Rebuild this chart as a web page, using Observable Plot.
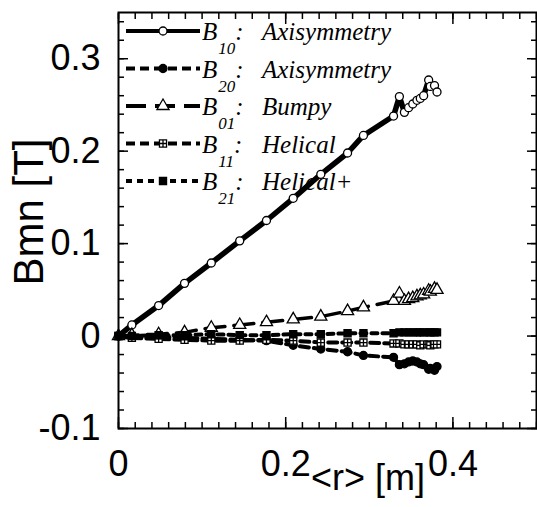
<!DOCTYPE html>
<html><head><meta charset="utf-8">
<script src="https://cdn.jsdelivr.net/npm/d3@7"></script>
<script src="https://cdn.jsdelivr.net/npm/@observablehq/plot@0.6"></script>
<style>
html,body{margin:0;padding:0;background:#fff;}
#chart svg{display:block;}
</style></head><body><div id="chart"></div>
<script>
// <r> [m] sample positions (shared by all harmonics)
const r   = [0, 0.016, 0.048, 0.079, 0.111, 0.145, 0.177, 0.209, 0.242, 0.274, 0.293, 0.329, 0.336, 0.342, 0.347, 0.352, 0.357, 0.361, 0.365, 0.371, 0.373, 0.378, 0.381];
const B10 = [0, 0.012, 0.033, 0.057, 0.079, 0.103, 0.125, 0.149, 0.175, 0.198, 0.217, 0.238, 0.259, 0.242, 0.247, 0.251, 0.255, 0.257, 0.260, 0.277, 0.270, 0.271, 0.264];
const B20 = [0, -0.001, -0.001, -0.002, -0.003, -0.004, -0.005, -0.010, -0.014, -0.017, -0.021, -0.023, -0.031, -0.030, -0.028, -0.027, -0.028, -0.030, -0.031, -0.036, -0.035, -0.037, -0.033];
const B01 = [0, 0.001, 0.002, 0.004, 0.009, 0.012, 0.015, 0.018, 0.021, 0.027, 0.031, 0.038, 0.046, 0.038, 0.040, 0.041, 0.043, 0.044, 0.045, 0.049, 0.048, 0.051, 0.050];
const B11 = [0, -0.002, -0.003, -0.004, -0.005, -0.005, -0.004, -0.005, -0.007, -0.007, -0.007, -0.008, -0.008, -0.009, -0.009, -0.009, -0.009, -0.010, -0.009, -0.009, -0.010, -0.009, -0.009];
const B21 = [0, 0.000, 0.001, 0.001, 0.002, 0.001, 0.001, 0.002, 0.002, 0.003, 0.003, 0.003, 0.004, 0.004, 0.004, 0.004, 0.004, 0.004, 0.004, 0.004, 0.004, 0.004, 0.004];

const seriesKeys = ["B10", "B20", "B01", "B11", "B21"];
const seriesSub  = ["10", "20", "01", "11", "21"];
const seriesDesc = ["Axisymmetry", "Axisymmetry", "Bumpy", "Helical", "Helical+"];
const seriesVals = {B10, B20, B01, B11, B21};

const xTickLabels = [0, 0.2, 0.4];
const yTickLabels = [-0.1, 0, 0.1, 0.2, 0.3];
const xMinorTicks = d3.range(0, 0.501, 0.02);
const yMinorTicks = d3.range(-0.1, 0.351, 0.02);
const xLabel = "<r> [m]";
const yLabel = "Bmn [T]";

const crossSquare = {
  draw(ctx, size) {
    const s = Math.sqrt(size) / 2;
    ctx.moveTo(-s, -s); ctx.lineTo(s, -s); ctx.lineTo(s, s); ctx.lineTo(-s, s); ctx.closePath();
    ctx.moveTo(-s, 0); ctx.lineTo(s, 0);
    ctx.moveTo(0, -s); ctx.lineTo(0, s);
  }
};
const styles = {
  B10: {dash: null,    width: 5.5, symbol: "circle",   d3sym: d3.symbolCircle,   fill: "white", rr: 4},
  B20: {dash: "9,5",   width: 4,   symbol: "circle",   d3sym: d3.symbolCircle,   fill: "black", rr: 4},
  B01: {dash: "20,9",  width: 3.5, symbol: "triangle", d3sym: d3.symbolTriangle, fill: "white", rr: 4.5},
  B11: {dash: "9,5",   width: 4,   symbol: crossSquare, d3sym: crossSquare,      fill: "white", rr: 4},
  B21: {dash: "6,5",   width: 4,   symbol: "square",   d3sym: d3.symbolSquare,   fill: "black", rr: 4}
};

const marks = [];
for (const k of seriesKeys) {
  const st = styles[k];
  const data = r.map((x, i) => ({x, y: seriesVals[k][i]}));
  marks.push(Plot.line(data, {x: "x", y: "y", stroke: "black", strokeWidth: st.width, strokeDasharray: st.dash, strokeLinejoin: "round"}));
  marks.push(Plot.dot(data, {x: "x", y: "y", r: st.rr, symbol: st.symbol, fill: st.fill, stroke: "black", strokeWidth: 1.3}));
}

const tickOpts = {fill: "none", stroke: "black", strokeWidth: 1.5, label: null};
marks.push(
  Plot.axisX({...tickOpts, anchor: "bottom", ticks: xMinorTicks, tickSize: -6}),
  Plot.axisX({...tickOpts, anchor: "top", ticks: xMinorTicks, tickSize: -6}),
  Plot.axisX({...tickOpts, anchor: "bottom", ticks: xTickLabels, tickSize: -11}),
  Plot.axisX({...tickOpts, anchor: "top", ticks: xTickLabels, tickSize: -11}),
  Plot.axisY({...tickOpts, anchor: "left", ticks: yMinorTicks, tickSize: -6}),
  Plot.axisY({...tickOpts, anchor: "right", ticks: yMinorTicks, tickSize: -6}),
  Plot.axisY({...tickOpts, anchor: "left", ticks: yTickLabels, tickSize: -10}),
  Plot.axisY({...tickOpts, anchor: "right", ticks: yTickLabels, tickSize: -10}),
  Plot.axisX({anchor: "bottom", ticks: xTickLabels, tickSize: 0, tickPadding: 22, fontSize: 36, tickFormat: d => String(d), label: null, fill: "black"}),
  Plot.axisY({anchor: "left", ticks: yTickLabels, tickSize: 0, tickPadding: 18, fontSize: 36, tickFormat: d => String(d), label: null, fill: "black"}),
  Plot.frame({stroke: "black", strokeWidth: 2})
);

const chart = Plot.plot({
  width: 537, height: 507,
  marginLeft: 118, marginRight: 1, marginTop: 12, marginBottom: 79,
  x: {domain: [0, 0.5]},
  y: {domain: [-0.1, 0.35]},
  style: {fontFamily: "'Liberation Sans', Arial, sans-serif", color: "black", background: "white"},
  marks
});
document.getElementById("chart").appendChild(chart);

// axis titles and in-plot legend
const svg = d3.select(chart);
svg.append("text").attr("x", 368).attr("y", 490).attr("text-anchor", "middle")
  .attr("font-size", 36).attr("font-family", "'Liberation Sans', Arial, sans-serif").attr("fill", "black").text(xLabel);
svg.append("text").attr("transform", "translate(43,212) rotate(-90)").attr("text-anchor", "middle")
  .attr("font-size", 42).attr("font-family", "'Liberation Sans', Arial, sans-serif").attr("fill", "black").text(yLabel);

const lg = svg.append("g").attr("text-anchor", "start");
seriesKeys.forEach((k, i) => {
  const st = styles[k];
  const y0 = 31 + i * 37.5;
  lg.append("line").attr("x1", 126).attr("x2", 200).attr("y1", y0).attr("y2", y0)
    .attr("stroke", "black").attr("stroke-width", 4).attr("stroke-dasharray", st.dash);
  lg.append("path").attr("transform", `translate(163,${y0})`)
    .attr("d", d3.symbol(st.d3sym, Math.PI * st.rr * st.rr)())
    .attr("fill", st.fill).attr("stroke", "black").attr("stroke-width", 1.3);
  const t = lg.append("text").attr("x", 202).attr("y", y0 + 9).attr("text-anchor", "start")
    .attr("font-family", "'Liberation Serif', 'Times New Roman', serif").attr("font-style", "italic")
    .attr("font-size", 25).attr("fill", "black");
  t.append("tspan").text("B");
  t.append("tspan").attr("font-size", 17).attr("dy", 14).attr("dx", 1).text(seriesSub[i]);
  t.append("tspan").attr("dy", -14).text(":");
  t.append("tspan").attr("x", 262).text(seriesDesc[i]);
});
</script></body></html>
